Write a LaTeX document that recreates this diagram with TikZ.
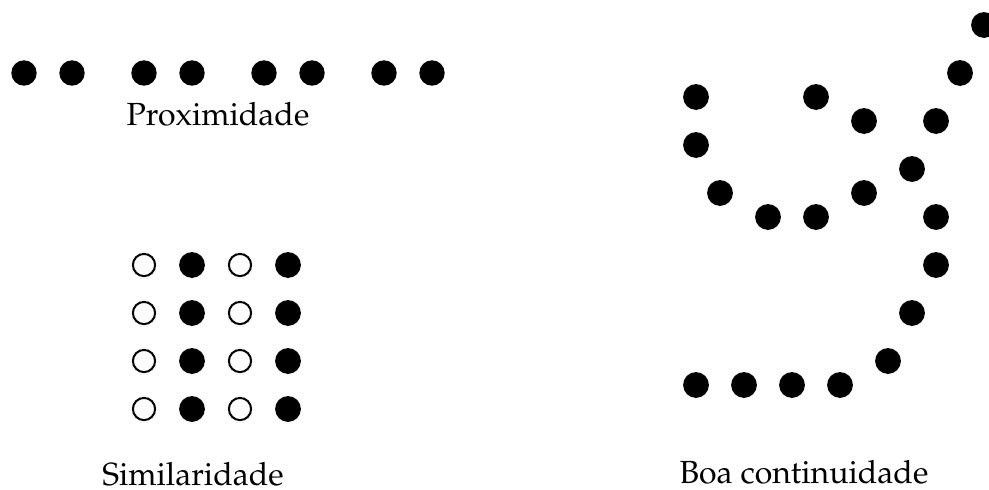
\documentclass[tikz,border=0pt]{standalone}
\usepackage[T1]{fontenc}
\usepackage{mathpazo}
\begin{document}
\begin{tikzpicture}[x=1pt,y=-1pt,
  dotfill/.style={fill=black},
  dotopen/.style={draw=black,line width=2pt,fill=white},
  lbl/.style={anchor=base,inner sep=0pt,font=\fontsize{32}{38}\selectfont}]
\useasboundingbox (0,0) rectangle (989,490);
% Proximidade
\foreach \x in {24,72,144,192,264,312,384,432}
  \fill[dotfill] (\x,73) circle (12.7);
\node[lbl] (prox) at (218,125) {Proximidade};
% Similaridade
\foreach \y in {265,313,361,409}{
  \draw[dotopen] (144,\y) circle (11.1);
  \fill[dotfill] (192,\y) circle (12.9);
  \draw[dotopen] (240,\y) circle (11.1);
  \fill[dotfill] (288,\y) circle (12.9);
}
\node[lbl] (sim) at (193,485) {Similaridade};
% Boa continuidade
\foreach \x/\y in {984/25,960/73,696/97,816/97,864/121,936/121,696/145,912/169,
  720/193,864/193,768/217,816/217,936/217,936/265,912/313,888/361,
  696/385,744/385,792/385,840/385}
  \fill[dotfill] (\x,\y) circle (12.9);
\node[lbl] (boa) at (804,483) {Boa continuidade};
\end{tikzpicture}
\end{document}
